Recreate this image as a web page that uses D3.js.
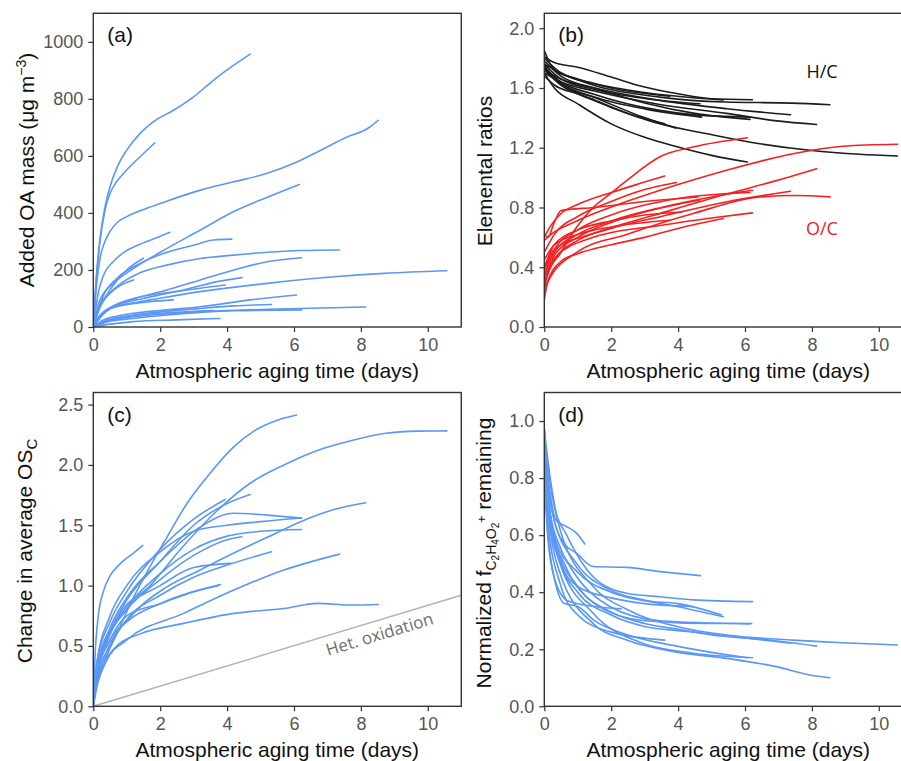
<!DOCTYPE html>
<html>
<head>
<meta charset="utf-8">
<script src="https://cdn.jsdelivr.net/npm/d3@7"></script>
<style>
  html, body { margin: 0; padding: 0; background: #fff; }
  svg { display: block; }
</style>
</head>
<body>
<svg id="chart" width="901" height="761"></svg>
<script>
// ---------------- DATA ----------------
const xTicks = [0, 2, 4, 6, 8, 10];
const aTicks = [0, 200, 400, 600, 800, 1000];
const bTicks = [0, 0.4, 0.8, 1.2, 1.6, 2.0];
const cTicks = [0, 0.5, 1.0, 1.5, 2.0, 2.5];
const dTicks = [0, 0.2, 0.4, 0.6, 0.8, 1.0];

// (a) Added OA mass (ug m-3) vs aging time (days)
const panelA = [
  [[0,0],[0.1,190],[0.2,310],[0.35,420],[0.5,492],[0.75,570],[1.0,620],[1.4,679],[1.8,720],[2.4,760],[3.0,807],[3.6,866],[4.2,918],[4.69,957]],
  [[0,0],[0.1,180],[0.2,300],[0.35,410],[0.5,468],[0.7,510],[0.9,538],[1.2,575],[1.4,597],[1.84,646]],
  [[0,0],[0.1,150],[0.2,240],[0.35,300],[0.5,335],[0.75,370],[1.0,387],[1.5,412],[2.0,433],[3.2,480],[4.2,509],[5.2,539],[6.0,574],[6.8,620],[7.6,667],[8.2,696],[8.52,725]],
  [[0,0],[0.2,95],[0.6,153],[1.2,205],[2.0,262],[3.2,340],[4.2,405],[5.2,455],[6.16,500]],
  [[0,0],[0.15,120],[0.3,180],[0.6,230],[1.0,268],[1.5,295],[2.0,318],[2.29,332]],
  [[0,0],[0.3,110],[0.7,170],[1.4,223],[2.2,262],[3.0,287],[3.6,305],[4.14,308]],
  [[0,0],[0.2,70],[0.5,130],[1.0,200],[1.5,241]],
  [[0,0],[0.2,70],[0.5,120],[0.8,150],[1.4,190],[2.2,217],[3.2,240],[4.2,252],[5.2,262],[6.2,268],[7.36,270]],
  [[0,0],[0.3,50],[0.7,75],[1.2,98],[2.2,130],[3.2,165],[4.2,200],[5.2,229],[6.23,243]],
  [[0,0],[0.2,40],[0.6,71],[1.2,85],[1.7,95],[3.2,124],[5.2,153],[7.2,176],[8.7,188],[10.57,197]],
  [[0,0],[0.3,50],[0.7,80],[1.2,100],[2.7,130],[3.7,159],[4.44,173]],
  [[0,0],[0.3,45],[0.8,80],[1.5,100],[2.2,118],[3.2,136],[3.94,147]],
  [[0,0],[0.2,80],[0.5,118],[0.8,145],[1.2,165]],
  [[0,0],[0.2,40],[0.4,60],[0.7,71],[1.2,82],[1.7,89],[2.39,95]],
  [[0,0],[0.3,25],[0.7,38],[1.2,48],[2.0,58],[3.2,71],[4.7,95],[6.08,112]],
  [[0,0],[0.3,20],[0.7,32],[1.2,42],[2.2,55],[3.2,65],[4.2,74],[5.33,79]],
  [[0,0],[0.3,18],[0.7,28],[1.2,36],[2.2,46],[3.2,54],[5.2,62],[6.5,66],[8.14,70]],
  [[0,0],[0.5,20],[1.2,30],[2.2,42],[4.2,57],[6.23,60]],
  [[0,0],[0.5,10],[1.2,19],[2.5,25],[3.79,30]],
  [[0,0],[0.5,25],[1.2,40],[2.2,50],[3.6,58]]
];

// (b) H/C ratios
const panelB_HC = [
  [[0,1.81],[0.3,1.77],[1.0,1.739],[2.0,1.673],[3.0,1.606],[4.0,1.561],[5.0,1.528],[6.22,1.521]],
  [[0,1.76],[0.5,1.70],[1.5,1.617],[3.45,1.539],[5.4,1.506],[7.4,1.499],[8.54,1.488]],
  [[0,1.72],[0.5,1.66],[1.5,1.60],[3.45,1.517],[5.45,1.461],[7.36,1.421]],
  [[0,1.70],[0.5,1.64],[1.5,1.58],[3.45,1.49],[5.45,1.43],[6.95,1.38],[8.14,1.356]],
  [[0,1.68],[0.3,1.62],[1.0,1.56],[2.0,1.47],[3.45,1.36],[4.95,1.29],[6.44,1.227],[7.94,1.183],[9.43,1.156],[10.56,1.145]],
  [[0,1.70],[0.3,1.60],[1.0,1.494],[2.0,1.36],[3.0,1.27],[4.0,1.205],[5.0,1.149],[6.07,1.105]],
  [[0,1.75],[0.5,1.62],[1.46,1.54],[2.95,1.405],[3.93,1.332]],
  [[0,1.72],[0.5,1.62],[1.5,1.52],[2.5,1.43],[3.6,1.36]],
  [[0,1.74],[0.5,1.64],[1.46,1.56],[3.45,1.45],[4.5,1.42],[6.15,1.405]],
  [[0,1.78],[0.5,1.68],[1.5,1.60],[3.0,1.50],[4.5,1.43],[6.15,1.39]],
  [[0,1.85],[0.3,1.72],[1.0,1.66],[2.0,1.60],[3.75,1.545]],
  [[0,1.76],[0.5,1.66],[1.5,1.59],[3.0,1.53],[4.65,1.494]],
  [[0,1.80],[0.5,1.70],[1.5,1.63],[3.0,1.57],[5.35,1.52]],
  [[0,1.73],[0.5,1.63],[1.5,1.54],[3.0,1.46],[4.7,1.405]]
];

// (b) O/C ratios
const panelB_OC = [
  [[0,0.25],[0.1,0.35],[0.47,0.49],[0.97,0.67],[1.46,0.80],[1.96,0.89],[2.46,0.98],[3.46,1.14],[4.45,1.205],[6.07,1.267]],
  [[0,0.58],[0.2,0.62],[0.97,0.71],[1.96,0.80],[3.46,0.915],[5.45,1.049],[7.44,1.16],[8.93,1.21],[10.56,1.223]],
  [[0,0.40],[0.3,0.52],[1.46,0.626],[3.46,0.76],[5.45,0.89],[6.94,0.98],[8.14,1.06]],
  [[0,0.30],[0.3,0.45],[1.0,0.58],[2.0,0.66],[3.5,0.74],[5.5,0.84],[7.36,0.909]],
  [[0,0.18],[0.1,0.30],[0.97,0.50],[2.46,0.62],[4.45,0.76],[6.44,0.87],[7.5,0.88],[8.54,0.871]],
  [[0,0.35],[0.3,0.50],[1.0,0.62],[2.0,0.71],[3.5,0.80],[5.0,0.87],[6.22,0.915]],
  [[0,0.34],[0.3,0.46],[1.46,0.60],[3.46,0.68],[5.0,0.73],[6.22,0.764]],
  [[0,0.22],[0.1,0.30],[0.5,0.44],[1.0,0.49],[2.0,0.55],[3.0,0.60],[4.0,0.66],[5.35,0.726]],
  [[0,0.45],[0.3,0.55],[1.0,0.62],[2.0,0.67],[3.75,0.715]],
  [[0,0.50],[0.3,0.62],[1.0,0.74],[2.0,0.84],[3.0,0.92],[3.95,0.967]],
  [[0,0.60],[0.2,0.68],[0.5,0.76],[1.0,0.82],[2.0,0.90],[3.0,0.97],[3.6,1.011]],
  [[0,0.40],[0.3,0.55],[1.0,0.65],[2.0,0.71],[3.0,0.75],[4.12,0.77]],
  [[0,0.30],[0.3,0.48],[1.0,0.60],[2.0,0.70],[3.0,0.77],[4.65,0.85]],
  [[0,0.38],[0.3,0.52],[1.0,0.65],[2.0,0.75],[4.0,0.86],[6.15,0.90]],
  [[0,0.62],[0.1,0.60],[0.3,0.70],[0.5,0.78],[1.5,0.80],[3.0,0.84],[4.6,0.87]]
];

// (c) Change in average OSc
const panelC = [
  [[0,0],[0.1,0.18],[0.3,0.35],[0.7,0.6],[1.2,0.9],[1.7,1.16],[2.2,1.40],[2.8,1.68],[3.4,1.9],[4.2,2.15],[4.8,2.28],[5.5,2.37],[6.08,2.414]],
  [[0,0],[0.1,0.25],[0.3,0.45],[0.7,0.72],[1.7,1.0],[2.7,1.33],[3.7,1.62],[4.7,1.85],[5.7,2.0],[6.7,2.12],[7.7,2.2],[8.7,2.26],[9.7,2.28],[10.57,2.282]],
  [[0,0],[0.05,0.4],[0.15,0.75],[0.3,0.95],[0.5,1.08],[0.8,1.18],[1.2,1.27],[1.48,1.333]],
  [[0,0],[0.1,0.2],[0.4,0.45],[1.2,0.77],[2.2,0.99],[3.2,1.13],[4.2,1.27],[5.2,1.40],[6.2,1.53],[7.2,1.63],[8.14,1.686]],
  [[0,0],[0.1,0.3],[0.5,0.65],[1.0,0.9],[2.0,1.2],[3.2,1.487],[4.2,1.6],[5.2,1.584],[6.23,1.56]],
  [[0,0],[0.1,0.25],[0.5,0.6],[1.0,0.82],[2.0,1.1],[3.0,1.3],[4.0,1.41],[5.0,1.45],[6.23,1.465]],
  [[0,0],[0.1,0.3],[0.5,0.62],[1.0,0.88],[2.0,1.2],[3.0,1.5],[4.0,1.68],[4.69,1.755]],
  [[0,0],[0.1,0.35],[0.5,0.7],[1.0,0.95],[2.0,1.3],[3.0,1.55],[3.94,1.714]],
  [[0,0],[0.1,0.28],[0.5,0.6],[1.0,0.8],[2.0,1.05],[3.0,1.25],[4.0,1.38],[4.44,1.405]],
  [[0,0],[0.1,0.22],[0.5,0.5],[1.0,0.72],[2.0,0.92],[3.0,1.07],[4.0,1.17],[5.33,1.28]],
  [[0,0],[0.1,0.3],[0.5,0.62],[1.0,0.82],[2.0,1.0],[3.0,1.15],[4.11,1.184]],
  [[0,0],[0.1,0.15],[0.4,0.38],[1.0,0.55],[2.7,0.77],[4.2,0.963],[5.7,1.129],[7.36,1.261]],
  [[0,0],[0.1,0.2],[0.3,0.35],[0.7,0.5],[1.4,0.6],[2.7,0.687],[4.2,0.77],[5.7,0.81],[6.7,0.853],[7.7,0.839],[8.52,0.844]],
  [[0,0],[0.1,0.25],[0.5,0.55],[1.0,0.7],[2.0,0.85],[3.0,0.95],[3.74,1.0]],
  [[0,0],[0.1,0.35],[0.5,0.75],[1.0,1.0],[2.0,1.28],[3.0,1.45],[4.0,1.5],[5.0,1.53],[6.23,1.56]],
  [[0,0],[0.1,0.25],[0.5,0.55],[1.0,0.75],[2.0,0.85],[3.0,0.95],[3.8,1.01]]
];

// (c) heterogeneous oxidation reference line
const hetOxidation = [[0,0],[11,0.92]];

// (d) Normalized f(C2H4O2+) remaining
const panelD = [
  [[0,0.95],[0.1,0.82],[0.37,0.65],[0.67,0.63],[0.97,0.606],[1.21,0.569]],
  [[0,0.98],[0.1,0.80],[0.3,0.65],[0.6,0.57],[0.97,0.536],[1.46,0.49],[2.46,0.487],[3.46,0.472],[4.67,0.458]],
  [[0,0.96],[0.1,0.85],[0.3,0.70],[0.67,0.60],[1.46,0.454],[2.46,0.396],[3.46,0.384],[4.45,0.373],[6.22,0.367]],
  [[0,0.93],[0.1,0.80],[0.3,0.65],[0.97,0.50],[1.96,0.408],[2.96,0.373],[3.96,0.35],[5.35,0.314]],
  [[0,0.90],[0.1,0.75],[0.3,0.60],[0.77,0.49],[1.96,0.35],[3.46,0.30],[6.15,0.289]],
  [[0,0.92],[0.1,0.75],[0.4,0.55],[1.0,0.42],[2.0,0.33],[3.0,0.29],[4.0,0.27],[5.0,0.25],[6.5,0.235],[8.14,0.211]],
  [[0,0.97],[0.12,0.85],[0.47,0.62],[1.46,0.42],[2.46,0.34],[3.96,0.28],[5.45,0.25],[7.44,0.232],[8.93,0.223],[10.56,0.215]],
  [[0,0.97],[0.1,0.70],[0.47,0.466],[1.46,0.29],[2.46,0.232],[3.96,0.19],[5.45,0.168],[6.94,0.139],[7.94,0.11],[8.54,0.10]],
  [[0,0.95],[0.1,0.70],[0.47,0.50],[1.46,0.326],[2.96,0.22],[4.45,0.186],[6.22,0.17]],
  [[0,0.90],[0.1,0.65],[0.5,0.42],[1.0,0.32],[2.0,0.26],[3.6,0.232]],
  [[0,0.88],[0.1,0.70],[0.5,0.50],[1.0,0.42],[2.0,0.38],[3.0,0.36],[4.45,0.35]],
  [[0,0.80],[0.1,0.60],[0.3,0.45],[0.7,0.37],[1.5,0.35],[2.3,0.342]],
  [[0,0.92],[0.1,0.72],[0.5,0.50],[1.0,0.40],[2.0,0.32],[3.0,0.28],[4.5,0.26],[6.0,0.24],[7.36,0.221]],
  [[0,0.86],[0.1,0.62],[0.3,0.45],[0.6,0.36],[1.0,0.35],[1.5,0.30],[2.5,0.25],[4.0,0.21],[6.07,0.17]],
  [[0,0.90],[0.15,0.70],[0.5,0.55],[1.0,0.47],[2.0,0.40],[3.0,0.37],[4.0,0.36],[5.3,0.32]],
  [[0,0.85],[0.2,0.63],[0.6,0.50],[1.5,0.36],[3.0,0.30],[5.0,0.29],[6.2,0.29]]
];

// ---------------- DRAWING ----------------
const svg = d3.select("#chart");
const BLUE = "#5b97f4", RED = "#f52020", BLACK = "#1c1c1c";
const FRAME = "#333333", TICKTXT = "#555555";
const FONT = "'Liberation Sans', Arial, Helvetica, sans-serif";
const DAY_PX = 33.45;

function makePanel(opt) {
  const x = d3.scaleLinear().domain([0, 11]).range([opt.left, opt.left + 11 * DAY_PX]);
  const y = d3.scaleLinear().domain(opt.yDomain).range([opt.bottom, opt.top]);
  const g = svg.append("g");

  const clipId = "clip" + opt.id;
  svg.append("clipPath").attr("id", clipId).append("rect")
    .attr("x", x.range()[0]).attr("y", opt.top)
    .attr("width", x.range()[1] - x.range()[0]).attr("height", opt.bottom - opt.top);

  const line = d3.line().x(d => x(d[0])).y(d => y(d[1])).curve(d3.curveMonotoneX);
  const lg = g.append("g").attr("clip-path", `url(#${clipId})`);
  opt.series.forEach(s => {
    lg.selectAll(null).data(s.data).enter().append("path")
      .attr("d", line).attr("fill", "none").attr("stroke", s.color)
      .attr("stroke-width", 1.6).attr("stroke-linejoin", "round").attr("stroke-linecap", "round");
  });
  if (opt.extra) opt.extra(g, x, y, lg);

  // frame
  g.append("rect").attr("x", x.range()[0]).attr("y", opt.top)
    .attr("width", x.range()[1] - x.range()[0]).attr("height", opt.bottom - opt.top)
    .attr("fill", "none").attr("stroke", FRAME).attr("stroke-width", 1.4);

  const xa = g.append("g").attr("transform", `translate(0,${opt.bottom})`)
    .call(d3.axisBottom(x).tickValues(xTicks).tickSize(5).tickPadding(6).tickFormat(d3.format("d")));
  const ya = g.append("g").attr("transform", `translate(${opt.left},0)`)
    .call(d3.axisLeft(y).tickValues(opt.yTicks).tickSize(5).tickPadding(5).tickFormat(opt.fmt));
  [xa, ya].forEach(a => {
    a.attr("font-size", 18).attr("font-family", FONT);
    a.select(".domain").remove();
    a.selectAll(".tick line").attr("stroke", FRAME).attr("stroke-width", 1.2);
    a.selectAll(".tick text").attr("fill", TICKTXT).attr("font-size", 18)
      .style("font-family", FONT).style("font-size", "18px");
  });

  // x title
  g.append("text").attr("x", opt.left + 11 * DAY_PX / 2).attr("y", opt.bottom + 51)
    .attr("text-anchor", "middle").style("font-family", FONT).style("font-size", "21px").attr("fill", "#111")
    .text("Atmospheric aging time (days)");

  // panel label
  g.append("text").attr("x", opt.left + 14).attr("y", opt.top + 29)
    .style("font-family", FONT).style("font-size", "21px").attr("fill", "#111").text(opt.label);

  // y title
  const yt = g.append("text")
    .attr("transform", `translate(${opt.ytX},${opt.ytY}) rotate(-90)`)
    .attr("text-anchor", "middle").style("font-family", FONT).style("font-size", "21px").attr("fill", "#111");
  opt.ytitle(yt);
}

const f1 = d3.format(".1f");

makePanel({
  id: "a", left: 93.3, top: 13.3, bottom: 327, yDomain: [0, 1100], yTicks: aTicks, fmt: d3.format("d"),
  label: "(a)", ytX: 34, ytY: 170,
  series: [{ data: panelA, color: BLUE }],
  ytitle: t => {
    t.append("tspan").text("Added OA mass (\u03bcg m");
    t.append("tspan").attr("dy", -8).style("font-size", "14px").text("\u22123");
    t.append("tspan").attr("dy", 8).text(")");
  }
});

makePanel({
  id: "b", left: 544.3, top: 13.3, bottom: 327, yDomain: [0, 2.1], yTicks: bTicks, fmt: f1,
  label: "(b)", ytX: 492, ytY: 171,
  series: [{ data: panelB_HC, color: BLACK }, { data: panelB_OC, color: RED }],
  ytitle: t => t.text("Elemental ratios"),
  extra: (g) => {
    g.append("text").attr("x", 822).attr("y", 78).attr("text-anchor", "middle")
      .style("font-family", "'Open Sans', sans-serif").style("font-size", "18px").attr("fill", "#111").text("H/C");
    g.append("text").attr("x", 822).attr("y", 235).attr("text-anchor", "middle")
      .style("font-family", "'Open Sans', sans-serif").style("font-size", "18px").attr("fill", RED).text("O/C");
  }
});

makePanel({
  id: "c", left: 93.3, top: 392.5, bottom: 706.3, yDomain: [0, 2.6], yTicks: cTicks, fmt: f1,
  label: "(c)", ytX: 32, ytY: 551,
  series: [{ data: panelC, color: BLUE }],
  ytitle: t => {
    t.append("tspan").text("Change in average OS");
    t.append("tspan").attr("dy", 5).style("font-size", "15px").text("C");
  },
  extra: (g, x, y, lg) => {
    lg.append("path").datum(hetOxidation)
      .attr("d", d3.line().x(d => x(d[0])).y(d => y(d[1])))
      .attr("fill", "none").attr("stroke", "#b4b4b4").attr("stroke-width", 1.5);
    const ang = Math.atan2(y(hetOxidation[1][1]) - y(0), x(hetOxidation[1][0]) - x(0)) * 180 / Math.PI;
    g.append("text").attr("transform", `translate(328,656) rotate(${ang})`)
      .style("font-family", "'Open Sans', sans-serif").style("font-size", "17px").attr("fill", "#6e6e6e")
      .text("Het. oxidation");
  }
});

makePanel({
  id: "d", left: 544.3, top: 392.5, bottom: 706.3, yDomain: [0, 1.1], yTicks: dTicks, fmt: f1,
  label: "(d)", ytX: 491, ytY: 553,
  series: [{ data: panelD, color: BLUE }],
  ytitle: t => {
    t.append("tspan").text("Normalized f");
    t.append("tspan").attr("dy", 5).style("font-size", "14px").text("C");
    t.append("tspan").attr("dy", 3).style("font-size", "10px").text("2");
    t.append("tspan").attr("dy", -3).style("font-size", "14px").text("H");
    t.append("tspan").attr("dy", 3).style("font-size", "10px").text("4");
    t.append("tspan").attr("dy", -3).style("font-size", "14px").text("O");
    t.append("tspan").attr("dy", 3).style("font-size", "10px").text("2");
    t.append("tspan").attr("dy", -13).style("font-size", "12px").text("+");
    t.append("tspan").attr("dy", 5).text(" remaining");
  }
});
</script>
</body>
</html>
